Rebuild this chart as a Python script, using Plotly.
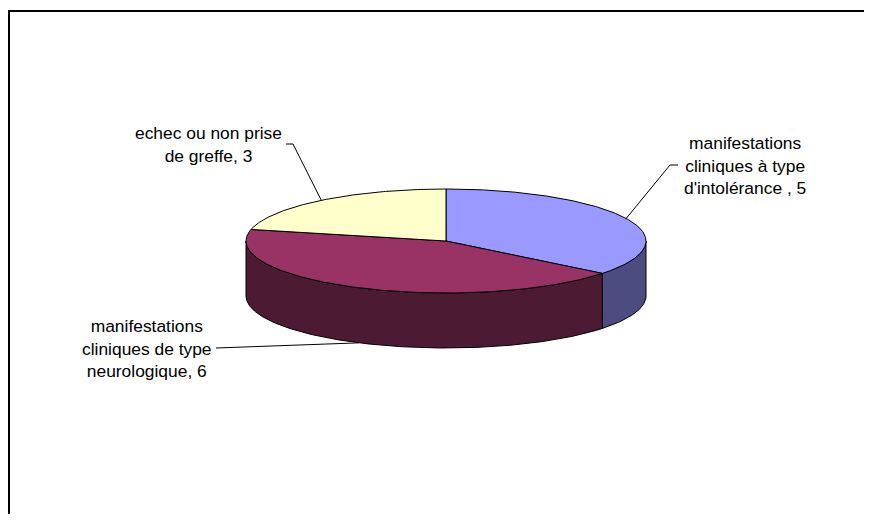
import numpy as np
import plotly.graph_objects as go

# ---------------- data ----------------
categories = [
    "manifestations<br>cliniques à type<br>d'intolérance ",
    "manifestations<br>cliniques de type<br>neurologique",
    "echec ou non prise<br>de greffe",
]
values = [5, 6, 3]

# ---------------- styling / layout parameters ----------------
top_colors = ["#9999FF", "#993366", "#FFFFCC"]
side_colors = ["#4C4C80", "#4D1A33", "#80805F"]
WIN_W, WIN_H = 872, 522
PAGE_MARGIN = 8            # default body margin of the html page
W, H = WIN_W - 2 * PAGE_MARGIN, WIN_H - 2 * PAGE_MARGIN
CX, CY, RX, RY, DEPTH = 446, 241, 200, 52, 55
FONT = "Liberation Sans, Arial, sans-serif"
FSIZE = 17.4
# label text-block centres, leader knee and leader end (screen pixels)
label_pos = [(745, 165), (147, 348), (208, 144)]
knee_pos = [(670, 165), (228, 348), (293, 144)]
end_pos = [(678, 165), (216, 348), (286, 144)]
anchor_on_bottom = [False, True, False]


def pt(theta_deg, dy=0.0):
    t = np.radians(theta_deg)
    return CX + RX * np.sin(t), CY - RY * np.cos(t) + dy


def arc(a0, a1, dy=0.0, n=None):
    if n is None:
        n = max(2, int(abs(a1 - a0) * 1.5))
    th = np.linspace(a0, a1, n)
    xs, ys = pt(th, dy)
    return list(xs), list(ys)


total = float(sum(values))
angles = np.cumsum([0] + [v / total * 360.0 for v in values])

fig = go.Figure()

# side walls (front half only: 90..270 deg clockwise from top)
for i in range(len(values)):
    a0, a1 = max(angles[i], 90.0), min(angles[i + 1], 270.0)
    if a1 <= a0:
        continue
    tx, ty = arc(a0, a1)
    bx, by = arc(a1, a0, DEPTH)
    xs = tx + bx + [tx[0]]
    ys = ty + by + [ty[0]]
    fig.add_trace(go.Scatter(x=xs, y=ys, mode="lines", fill="toself",
                             fillcolor=side_colors[i],
                             line=dict(color="#000000", width=1),
                             hoverinfo="skip", showlegend=False))

# top faces
for i in range(len(values)):
    ax, ay = arc(angles[i], angles[i + 1])
    xs = [CX] + ax + [CX]
    ys = [CY] + ay + [CY]
    fig.add_trace(go.Scatter(x=xs, y=ys, mode="lines", fill="toself",
                             fillcolor=top_colors[i],
                             line=dict(color="#000000", width=1),
                             hoverinfo="skip", showlegend=False))

# leader lines and labels
for i in range(len(values)):
    mid = (angles[i] + angles[i + 1]) / 2.0
    sx, sy = pt(mid, DEPTH if anchor_on_bottom[i] else 0.0)
    fig.add_trace(go.Scatter(x=[float(sx), knee_pos[i][0], end_pos[i][0]],
                             y=[float(sy), knee_pos[i][1], end_pos[i][1]],
                             mode="lines", line=dict(color="#000000", width=1),
                             hoverinfo="skip", showlegend=False))
    fig.add_annotation(x=label_pos[i][0], y=label_pos[i][1],
                       text=f"{categories[i]}, {values[i]}",
                       showarrow=False, xanchor="center", yanchor="middle",
                       align="center",
                       font=dict(family=FONT, size=FSIZE, color="#000000"))

# chart-area border
fig.add_shape(type="rect", x0=9, y0=11, x1=WIN_W + 20, y1=WIN_H + 20,
              line=dict(color="#000000", width=2), layer="above")

fig.update_layout(
    width=W, height=H,
    margin=dict(l=0, r=0, t=0, b=0),
    paper_bgcolor="#FFFFFF", plot_bgcolor="#FFFFFF",
    xaxis=dict(range=[PAGE_MARGIN, PAGE_MARGIN + W], visible=False, fixedrange=True),
    yaxis=dict(range=[PAGE_MARGIN + H, PAGE_MARGIN], visible=False, fixedrange=True),
    showlegend=False,
)

fig.write_html("out.html", config={"displayModeBar": False})
